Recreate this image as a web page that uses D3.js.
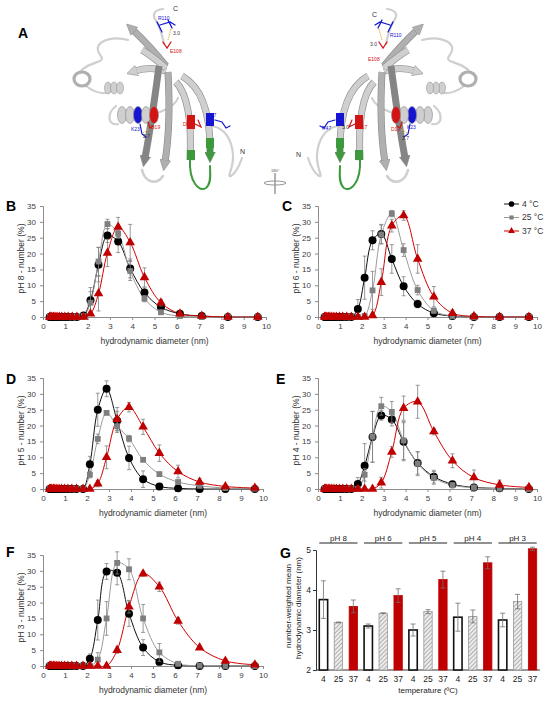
<!DOCTYPE html>
<html>
<head>
<meta charset="utf-8">
<script src="https://cdn.jsdelivr.net/npm/d3@7"></script>
<style>
  body { margin: 0; background: #fff; }
  svg { font-family: "Liberation Sans", Arial, sans-serif; }
</style>
</head>
<body>
<div id="fig"></div>
<script>
// Diameter bins (nm) shared by all DLS panels
const diameters = [0.30, 0.35, 0.40, 0.47, 0.54, 0.63, 0.73, 0.84, 0.98, 1.13, 1.31, 1.52, 1.82, 2.13, 2.49, 2.89, 3.37, 3.91, 4.55, 5.29, 6.14, 7.12, 8.29, 9.63];
const temperatures = ["4 °C", "25 °C", "37 °C"];

// pH 8
const ph8_4 = [0,0,0,0,0,0,0,0,0,0,0,0, 0.5, 5.3, 16.5, 25.7, 23.8, 15.3, 7.7, 3.1, 1.0, 0.3, 0, 0];
const ph8_4err = [0,0,0,0,0,0,0,0,0,0,0,0, 0.8, 4.0, 5.4, 2.2, 3.5, 3.0, 1.5, 1.0, 0.4, 0.2, 0, 0];
const ph8_25 = [0,0,0,0,0,0,0,0,0,0,0,0, 0.3, 4.5, 17.5, 29.3, 26.3, 14.5, 5.8, 1.5, 0.3, 0, 0, 0];
const ph8_25err = [0,0,0,0,0,0,0,0,0,0,0,0, 0.5, 3.5, 4.5, 1.5, 1.5, 3.0, 1.0, 0.6, 0.2, 0, 0, 0];
const ph8_37 = [0,0,0,0,0,0,0,0,0,0,0,0, 0, 1.0, 7.4, 20.2, 28.4, 23.5, 12.5, 4.5, 1.0, 0.3, 0, 0];
const ph8_37err = [0,0,0,0,0,0,0,0,0,0,0,0, 0, 0.5, 5.5, 4.3, 3.0, 5.7, 3.0, 1.0, 0.4, 0, 0, 0];

// pH 6
const ph6_4 = [0,0,0,0,0,0,0,0,0,0,0,0, 2.5, 12.4, 24.2, 26.2, 18.3, 9.7, 4.1, 1.2, 0.3, 0, 0, 0];
const ph6_4err = [0,0,0,0,0,0,0,0,0,0,0,0, 3.0, 6.8, 3.0, 3.0, 4.5, 3.0, 1.2, 0.5, 0.2, 0, 0, 0];
const ph6_25 = [0,0,0,0,0,0,0,0,0,0,0,0, 0, 0.3, 8.4, 26.0, 32.6, 21.1, 8.5, 2.0, 0.3, 0, 0, 0];
const ph6_25err = [0,0,0,0,0,0,0,0,0,0,0,0, 0, 0.5, 6.0, 3.0, 1.0, 2.0, 1.5, 0.8, 0.2, 0, 0, 0];
const ph6_37 = [0,0,0,0,0,0,0,0,0,0,0,0, 0, 0, 0.5, 11.0, 28.8, 32.0, 18.3, 6.4, 1.2, 0.2, 0, 0];
const ph6_37err = [0,0,0,0,0,0,0,0,0,0,0,0, 0, 0, 0.3, 4.2, 2.0, 1.5, 4.5, 3.2, 1.0, 0.2, 0, 0];

// pH 5
const ph5_4 = [0,0,0,0,0,0,0,0,0,0,0,0, 0, 7.8, 25.0, 31.6, 21.5, 9.8, 3.1, 0.8, 0.2, 0, 0, 0];
const ph5_4err = [0,0,0,0,0,0,0,0,0,0,0,0, 0, 2.5, 5.2, 2.5, 3.0, 3.7, 2.6, 0.5, 0.2, 0, 0, 0];
const ph5_25 = [0,0,0,0,0,0,0,0,0,0,0,0, 0, 4.5, 15.8, 24.0, 19.8, 15.9, 9.2, 4.7, 2.2, 1.0, 0.3, 0.1];
const ph5_25err = [0,0,0,0,0,0,0,0,0,0,0,0, 0, 1.0, 1.5, 0.5, 2.0, 1.0, 0.5, 0.4, 0.3, 0.2, 0.1, 0];
const ph5_37 = [0,0,0,0,0,0,0,0,0,0,0,0, 0, 0, 1.7, 10.0, 22.0, 25.8, 19.6, 11.3, 5.5, 2.2, 0.8, 0.3];
const ph5_37err = [0,0,0,0,0,0,0,0,0,0,0,0, 0, 0, 1.0, 3.6, 3.7, 1.5, 2.4, 2.6, 2.0, 1.2, 0.5, 0.2];

// pH 4
const ph4_4 = [0,0,0,0,0,0,0,0,0,0,0,0, 1.6, 7.3, 16.4, 23.2, 21.9, 14.9, 8.2, 3.9, 1.5, 0.5, 0.2, 0];
const ph4_4err = [0,0,0,0,0,0,0,0,0,0,0,0, 2.0, 7.0, 8.0, 1.5, 2.0, 6.0, 3.5, 2.0, 0.8, 0.3, 0, 0];
const ph4_25 = [0,0,0,0,0,0,0,0,0,0,0,0, 0, 4.5, 16.5, 26.1, 24.3, 15.3, 8.0, 3.5, 1.2, 0.4, 0.1, 0];
const ph4_25err = [0,0,0,0,0,0,0,0,0,0,0,0, 0, 2.0, 8.0, 2.8, 3.3, 6.0, 3.8, 2.0, 0.8, 0.3, 0, 0];
const ph4_37 = [0,0,0,0,0,0,0,0,0,0,0,0, 0, 0, 0, 2.0, 11.7, 25.5, 27.5, 18.1, 8.9, 3.6, 1.3, 0.5];
const ph4_37err = [0,0,0,0,0,0,0,0,0,0,0,0, 0, 0, 0, 1.7, 1.7, 3.8, 5.2, 1.0, 2.2, 2.4, 1.5, 0.8];

// pH 3
const ph3_4 = [0,0,0,0,0,0,0,0,0,0,0,0, 0, 2.3, 14.5, 29.8, 29.4, 16.5, 5.8, 1.3, 0.2, 0, 0, 0];
const ph3_4err = [0,0,0,0,0,0,0,0,0,0,0,0, 0, 1.5, 6.3, 2.5, 3.8, 4.0, 2.5, 0.8, 0.2, 0, 0, 0];
const ph3_25 = [0,0,0,0,0,0,0,0,0,0,0,0, 0, 0, 2.0, 15.0, 32.5, 30.5, 15.0, 4.3, 0.7, 0.1, 0, 0];
const ph3_25err = [0,0,0,0,0,0,0,0,0,0,0,0, 0, 0, 2.2, 5.3, 3.5, 3.3, 4.4, 2.8, 0.7, 0.1, 0, 0];
const ph3_37 = [0,0,0,0,0,0,0,0,0,0,0,0, 0, 0, 0, 0, 5.0, 18.7, 29.1, 25.0, 14.2, 5.8, 1.6, 0.4];
const ph3_37err = [0,0,0,0,0,0,0,0,0,0,0,0, 0, 0, 0, 0, 1.0, 2.0, 0.8, 1.5, 1.0, 0.5, 0.6, 0.5];

// Panel G: number-weighted mean diameter
const phGroups = ["pH 8", "pH 6", "pH 5", "pH 4", "pH 3"];
const barTemps = ["4", "25", "37"];
const meanDiam = [3.76, 3.19, 3.59, 3.10, 3.42, 3.86, 3.00, 3.46, 4.26, 3.32, 3.34, 4.68, 3.25, 3.71, 5.03];
const meanDiamErr = [0.47, 0.01, 0.16, 0.05, 0.01, 0.17, 0.15, 0.05, 0.21, 0.35, 0.16, 0.15, 0.17, 0.18, 0.04];

const W = 550, H = 701;
const font = "\"Liberation Sans\", Arial, sans-serif";

const svg = d3.select("#fig").append("svg")
    .attr("width", W)
    .attr("height", H);

const defs = svg.append("defs");

// hatch for 25 °C bars
const hatch = defs.append("pattern")
    .attr("id", "hatch")
    .attr("width", 3).attr("height", 3)
    .attr("patternUnits", "userSpaceOnUse")
    .attr("patternTransform", "rotate(45)");
hatch.append("rect").attr("width", 3).attr("height", 3).attr("fill", "#ececec");
hatch.append("line").attr("x1", 0).attr("y1", 0).attr("x2", 0).attr("y2", 3)
    .attr("stroke", "#8a8a8a").attr("stroke-width", 1.2);

// ---------- Panel A : simplified cartoon of the structure ----------
const proteinColors = { light: "#cfcfcf", mid: "#b0b0b0", dark: "#858585", edge: "#8a8a8a", blue: "#1414d2", red: "#d21414", green: "#3c9a3c" };

["light", "mid", "dark", "green"].forEach(k => {
    defs.append("marker")
        .attr("id", "arr-" + k)
        .attr("viewBox", "0 0 10 10")
        .attr("refX", 2).attr("refY", 5)
        .attr("markerWidth", 11).attr("markerHeight", 11)
        .attr("markerUnits", "userSpaceOnUse")
        .attr("orient", "auto")
        .append("path")
        .attr("d", "M0,0 L10,5 L0,10 Z")
        .attr("fill", proteinColors[k])
        .attr("stroke", proteinColors.edge)
        .attr("stroke-width", 0.5);
});

function drawProtein(g) {
    const c = proteinColors;
    const tube = (d, col, w) => g.append("path").attr("d", d).attr("fill", "none")
        .attr("stroke", col).attr("stroke-width", w).attr("stroke-linecap", "round");
    const strand = (d, col, arrow) => {
        g.append("path").attr("d", d).attr("fill", "none").attr("stroke", c.edge).attr("stroke-width", 7);
        g.append("path").attr("d", d).attr("fill", "none").attr("stroke", c[col]).attr("stroke-width", 5.8)
            .attr("marker-end", arrow ? "url(#arr-" + col + ")" : null);
    };

    // loops
    tube("M163,9 C154,10 151,15 157,22 C160,28 162,34 164,44", c.light, 2.2);
    tube("M128,40 C114,36 100,40 98,47 C96,54 106,58 100,61 C92,64 84,66 80,72", c.light, 2.2);
    tube("M86,86 C95,93 104,94 110,92", c.light, 2.2);
    tube("M118,124 C108,126 106,114 116,106", c.light, 2.2);
    tube("M160,112 C170,108 176,104 178,98", c.light, 2.2);
    tube("M142,170 C145,182 156,186 163,176", c.light, 2.6);
    tube("M212,126 C225,128 232,140 233,155 C234,168 226,178 231,176 C237,172 240,164 242,158", c.light, 2.2);
    tube("M190,160 C189,182 199,192 206,188 C212,183 210,172 210,166", c.green, 2);

    // small helix on the left
    g.append("ellipse").attr("cx", 82).attr("cy", 79).attr("rx", 8).attr("ry", 7)
        .attr("fill", "none").attr("stroke", c.mid).attr("stroke-width", 3.2);
    [108, 114, 120].forEach(x => {
        g.append("ellipse").attr("cx", x).attr("cy", 88).attr("rx", 3.5).attr("ry", 6)
            .attr("fill", c.light).attr("stroke", c.edge).attr("stroke-width", 0.5);
    });

    // strands fanning up
    strand("M166,66 Q150,46 133,30", "mid", true);
    strand("M166,71 Q150,66 135,71", "light", true);
    strand("M166,68 Q152,56 142,50", "light", false);
    // strands going down
    strand("M159,66 Q152,120 145,158", "dark", true);
    strand("M168,72 Q171,125 165,162", "mid", true);
    strand("M176,82 Q193,100 190,160", "light", false);
    strand("M182,76 Q210,92 210,148", "light", false);
    strand("M210,146 L210,154", "green", true);

    // coloured segments on strands
    g.append("rect").attr("x", 187).attr("y", 115).attr("width", 8).attr("height", 14).attr("fill", c.red);
    g.append("rect").attr("x", 187).attr("y", 150).attr("width", 8).attr("height", 10).attr("fill", c.green);
    g.append("rect").attr("x", 206).attr("y", 113).attr("width", 8).attr("height", 13).attr("fill", c.blue);
    g.append("rect").attr("x", 206).attr("y", 138).attr("width", 8).attr("height", 10).attr("fill", c.green);

    // helix
    [122, 130, 138, 146, 154].forEach((x, i) => {
        g.append("ellipse").attr("cx", x).attr("cy", 115).attr("rx", 4.5).attr("ry", 8.5)
            .attr("fill", i === 2 ? c.blue : i === 4 ? c.red : c.light)
            .attr("stroke", c.edge).attr("stroke-width", 0.6);
    });

    // side chains
    tube("M157,22 L162,32 M160,25 L170,22 L175,25 M168,20 L172,28", c.blue, 1.3);
    tube("M163,42 L167,48 L171,42", c.red, 1.3);
    tube("M140,124 L142,134 L146,137", c.blue, 1.2);
    tube("M148,122 L150,128 L153,126", c.red, 1.2);
    tube("M195,124 L201,127 L198,120", c.red, 1.2);
    tube("M215,120 L222,122 L226,128 L230,126", c.blue, 1.2);
    g.append("path").attr("d", "M171,29 L168,40").attr("stroke", "#e8b030").attr("stroke-width", 1).attr("stroke-dasharray", "1.5,1");
    g.append("path").attr("d", "M143,133 L149,129").attr("stroke", "#e8b030").attr("stroke-width", 1).attr("stroke-dasharray", "1.5,1");
}

const protL = svg.append("g");
drawProtein(protL);
const protR = svg.append("g").attr("transform", "translate(550,0) scale(-1,1)");
drawProtein(protR);

const protLabels = [
    { t: "C", x: 173, y: 11, c: "#333", s: 7 },
    { t: "R110", x: 158, y: 20, c: "#1414d2", s: 5 },
    { t: "3.0", x: 173, y: 35, c: "#333", s: 5 },
    { t: "E108", x: 170, y: 53, c: "#d21414", s: 5 },
    { t: "K23", x: 131, y: 131, c: "#1414d2", s: 5 },
    { t: "D19", x: 151, y: 129, c: "#d21414", s: 5 },
    { t: "2.7", x: 143, y: 138, c: "#333", s: 5 },
    { t: "D67", x: 183, y: 126, c: "#d21414", s: 5 },
    { t: "R47", x: 207, y: 117, c: "#1414d2", s: 5 },
    { t: "N", x: 240, y: 154, c: "#333", s: 7 },
    { t: "C", x: 372, y: 17, c: "#333", s: 7 },
    { t: "R110", x: 390, y: 37, c: "#1414d2", s: 5 },
    { t: "3.0", x: 370, y: 46, c: "#333", s: 5 },
    { t: "E108", x: 368, y: 61, c: "#d21414", s: 5 },
    { t: "R47", x: 322, y: 130, c: "#1414d2", s: 5 },
    { t: "3.0", x: 342, y: 129, c: "#333", s: 5 },
    { t: "D67", x: 358, y: 129, c: "#d21414", s: 5 },
    { t: "D19", x: 391, y: 131, c: "#d21414", s: 5 },
    { t: "K23", x: 407, y: 129, c: "#1414d2", s: 5 },
    { t: "2.7", x: 402, y: 140, c: "#333", s: 5 },
    { t: "N", x: 296, y: 157, c: "#333", s: 7 }
];
svg.selectAll(".plab").data(protLabels).enter().append("text")
    .attr("class", "plab")
    .attr("x", d => d.x).attr("y", d => d.y)
    .attr("fill", d => d.c)
    .style("font-size", d => d.s + "px")
    .text(d => d.t);

// rotation symbol
svg.append("ellipse").attr("cx", 275).attr("cy", 183).attr("rx", 11).attr("ry", 2)
    .attr("fill", "none").attr("stroke", "#777").attr("stroke-width", 0.8);
svg.append("line").attr("x1", 275).attr("x2", 275).attr("y1", 173).attr("y2", 194)
    .attr("stroke", "#999").attr("stroke-width", 1.5);
svg.append("text").attr("x", 271).attr("y", 172).style("font-size", "4px").attr("fill", "#555").text("180°");

// panel letters
const panelLetters = [
    { t: "A", x: 18, y: 38 }, { t: "B", x: 6, y: 211 }, { t: "C", x: 282, y: 211 },
    { t: "D", x: 6, y: 384 }, { t: "E", x: 276, y: 384 }, { t: "F", x: 6, y: 557 }, { t: "G", x: 280, y: 558 }
];
svg.selectAll(".letter").data(panelLetters).enter().append("text")
    .attr("x", d => d.x).attr("y", d => d.y)
    .style("font-size", "14px").style("font-weight", "bold")
    .text(d => d.t);

// ---------- Panels B-F : size distributions ----------
const seriesStyle = [
    { color: "#000000", line: "#111111", symbol: d3.symbolCircle, size: 50 },
    { color: "#7f7f7f", line: "#9a9a9a", symbol: d3.symbolSquare, size: 34 },
    { color: "#c00000", line: "#d00000", symbol: d3.symbolTriangle, size: 40 }
];

const distPanels = [
    { ph: "pH 8", left: 43, right: 266, top: 206, bottom: 317, data: [ph8_4, ph8_25, ph8_37], err: [ph8_4err, ph8_25err, ph8_37err] },
    { ph: "pH 6", left: 318, right: 537, top: 206, bottom: 317, data: [ph6_4, ph6_25, ph6_37], err: [ph6_4err, ph6_25err, ph6_37err], legend: true },
    { ph: "pH 5", left: 43, right: 263, top: 378, bottom: 489, data: [ph5_4, ph5_25, ph5_37], err: [ph5_4err, ph5_25err, ph5_37err] },
    { ph: "pH 4", left: 318, right: 537, top: 378, bottom: 489, data: [ph4_4, ph4_25, ph4_37], err: [ph4_4err, ph4_25err, ph4_37err] },
    { ph: "pH 3", left: 43, right: 263, top: 555, bottom: 666, data: [ph3_4, ph3_25, ph3_37], err: [ph3_4err, ph3_25err, ph3_37err] }
];

distPanels.forEach((p, pi) => {
    const x = d3.scaleLinear().domain([0, 10]).range([p.left, p.right]);
    const y = d3.scaleLinear().domain([0, 35]).range([p.bottom, p.top]);
    const g = svg.append("g");

    const clipId = "clip" + pi;
    defs.append("clipPath").attr("id", clipId).append("rect")
        .attr("x", p.left).attr("y", p.top - 20)
        .attr("width", p.right - p.left + 2).attr("height", p.bottom - p.top + 20.5);

    // axes
    const yAxis = g.append("g")
        .attr("transform", "translate(" + p.left + ",0)")
        .call(d3.axisLeft(y).tickValues(d3.range(0, 36, 5)).tickSize(3).tickPadding(4));
    const xAxis = g.append("g")
        .attr("transform", "translate(0," + p.bottom + ")")
        .call(d3.axisBottom(x).ticks(10).tickSize(3).tickPadding(3));
    [xAxis, yAxis].forEach(a => {
        a.select(".domain").attr("stroke", "#8c8c8c");
        a.selectAll(".tick line").attr("stroke", "#8c8c8c");
        a.selectAll(".tick text").attr("fill", "#404040").style("font-size", "8px").style("font-family", font);
    });

    // axis titles
    g.append("text")
        .attr("x", (p.left + p.right) / 2)
        .attr("y", p.bottom + 27)
        .style("text-anchor", "middle")
        .style("font-size", "8.5px")
        .attr("fill", "#333")
        .text("hydrodynamic diameter (nm)");
    g.append("text")
        .attr("transform", "rotate(-90)")
        .attr("x", -(p.top + p.bottom) / 2 + 3)
        .attr("y", p.left - 19)
        .style("text-anchor", "middle")
        .style("font-size", "8.5px")
        .attr("fill", "#333")
        .text(p.ph + " - number (%)");

    const line = d3.line()
        .x((d, i) => x(diameters[i]))
        .y(d => y(d))
        .curve(d3.curveCatmullRom.alpha(0.5));

    p.data.forEach((vals, si) => {
        const st = seriesStyle[si];
        g.append("path")
            .datum(vals)
            .attr("clip-path", "url(#" + clipId + ")")
            .attr("fill", "none")
            .attr("stroke", st.line)
            .attr("stroke-width", 1)
            .attr("d", line);
    });

    p.data.forEach((vals, si) => {
        const st = seriesStyle[si];
        const errs = p.err[si];
        const pts = vals.map((v, i) => ({ d: diameters[i], v: v, e: errs[i] }));

        const eb = g.append("g").attr("stroke", "#808080").attr("stroke-width", 0.8);
        pts.filter(d => d.e > 0).forEach(d => {
            const cx = x(d.d);
            eb.append("line").attr("x1", cx).attr("x2", cx)
                .attr("y1", y(Math.max(0, d.v - d.e))).attr("y2", y(d.v + d.e));
            eb.append("line").attr("x1", cx - 2).attr("x2", cx + 2)
                .attr("y1", y(d.v + d.e)).attr("y2", y(d.v + d.e));
            if (d.v - d.e > 0) {
                eb.append("line").attr("x1", cx - 2).attr("x2", cx + 2)
                    .attr("y1", y(d.v - d.e)).attr("y2", y(d.v - d.e));
            }
        });

        g.selectAll(".pt" + si).data(pts).enter().append("path")
            .attr("transform", d => "translate(" + x(d.d) + "," + y(d.v) + ")")
            .attr("d", d3.symbol().type(st.symbol).size(st.size))
            .attr("fill", st.color);
    });

    if (p.legend) {
        const lg = g.selectAll(".leg").data(temperatures).enter().append("g")
            .attr("transform", (d, i) => "translate(504," + (204 + i * 13.5) + ")");
        lg.append("line").attr("x1", 0).attr("x2", 15)
            .attr("stroke", (d, i) => seriesStyle[i].line).attr("stroke-width", 1);
        lg.append("path")
            .attr("transform", "translate(7.5,0)")
            .attr("d", (d, i) => d3.symbol().type(seriesStyle[i].symbol).size(seriesStyle[i].size * 0.5)())
            .attr("fill", (d, i) => seriesStyle[i].color);
        lg.append("text")
            .attr("x", 18).attr("dy", "0.35em")
            .style("font-size", "8.5px").attr("fill", "#333")
            .text(d => d);
    }
});

// ---------- Panel G : mean diameter bars ----------
const gLeft = 316, gRight = 540, gTop = 550, gBottom = 670;
const xb = d3.scaleBand().domain(d3.range(meanDiam.length)).range([gLeft, gRight]).paddingInner(0.44).paddingOuter(0.22);
const yb = d3.scaleLinear().domain([2, 5]).range([gBottom, gTop]);
const gG = svg.append("g");

const ybAxis = gG.append("g").attr("transform", "translate(" + gLeft + ",0)")
    .call(d3.axisLeft(yb).tickValues([2, 3, 4, 5]).tickFormat(d3.format("d")).tickSize(3).tickPadding(2));
const xbAxis = gG.append("g").attr("transform", "translate(0," + gBottom + ")")
    .call(d3.axisBottom(xb).tickSize(0).tickPadding(6).tickFormat(i => barTemps[i % 3]));
xbAxis.select(".domain").attr("stroke", "#333").attr("d", "M" + gLeft + ",0H" + gRight);
ybAxis.select(".domain").attr("stroke", "#333");
ybAxis.selectAll(".tick line").attr("stroke", "#333");
[xbAxis, ybAxis].forEach(a => a.selectAll(".tick text").attr("fill", "#222").style("font-size", "8.5px").style("font-family", font));

gG.selectAll(".bar").data(meanDiam).enter().append("rect")
    .attr("x", (d, i) => xb(i))
    .attr("y", d => yb(d))
    .attr("width", xb.bandwidth())
    .attr("height", d => yb(2) - yb(d))
    .attr("fill", (d, i) => ["#ffffff", "url(#hatch)", "#c00000"][i % 3])
    .attr("stroke", (d, i) => ["#111", "#9a9a9a", "#c00000"][i % 3])
    .attr("stroke-width", (d, i) => i % 3 === 0 ? 1.6 : 0.8);

const ebG = gG.append("g").attr("stroke", "#707070").attr("stroke-width", 0.8);
meanDiam.forEach((v, i) => {
    const cx = xb(i) + xb.bandwidth() / 2, e = meanDiamErr[i];
    ebG.append("line").attr("x1", cx).attr("x2", cx).attr("y1", yb(v - e)).attr("y2", yb(v + e));
    ebG.append("line").attr("x1", cx - 2.5).attr("x2", cx + 2.5).attr("y1", yb(v + e)).attr("y2", yb(v + e));
    ebG.append("line").attr("x1", cx - 2.5).attr("x2", cx + 2.5).attr("y1", yb(v - e)).attr("y2", yb(v - e));
});

// pH group brackets
phGroups.forEach((ph, k) => {
    const x1 = xb(3 * k), x2 = xb(3 * k + 2) + xb.bandwidth();
    gG.append("line").attr("x1", x1).attr("x2", x2).attr("y1", 543).attr("y2", 543)
        .attr("stroke", "#222").attr("stroke-width", 1);
    gG.append("text").attr("x", (x1 + x2) / 2).attr("y", 540.5)
        .style("text-anchor", "middle").style("font-size", "8px").attr("fill", "#222")
        .text(ph);
});

gG.append("text").attr("x", (gLeft + gRight) / 2).attr("y", 693)
    .style("text-anchor", "middle").style("font-size", "8px").attr("fill", "#222")
    .text("temperature (ºC)");
gG.append("text").attr("transform", "rotate(-90)")
    .attr("x", -606).attr("y", 291)
    .style("text-anchor", "middle").style("font-size", "8px").attr("fill", "#222")
    .text("number-weighted mean");
gG.append("text").attr("transform", "rotate(-90)")
    .attr("x", -608).attr("y", 301)
    .style("text-anchor", "middle").style("font-size", "8px").attr("fill", "#222")
    .text("hydrodynamic diameter (nm)");
</script>
</body>
</html>
